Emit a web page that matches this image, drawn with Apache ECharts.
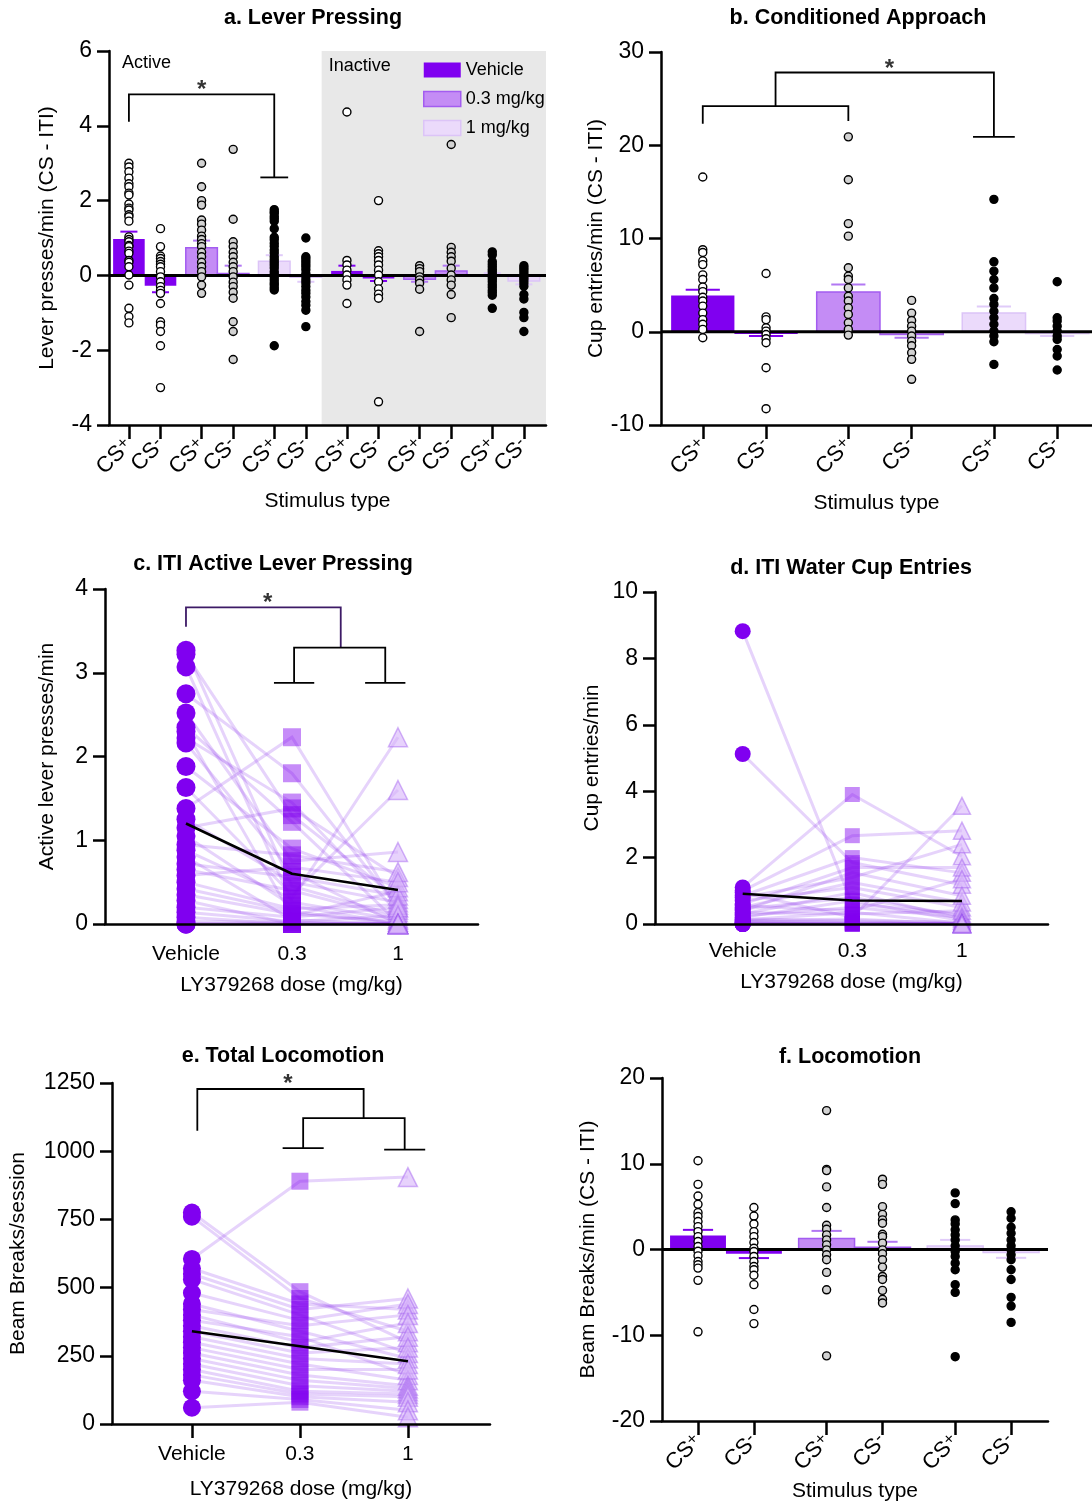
<!DOCTYPE html>
<html>
<head>
<meta charset="utf-8">
<title>LY379268 behaviour panels</title>
<script src="https://cdn.jsdelivr.net/npm/echarts@6.0.0/dist/echarts.min.js"></script>
<style>
  html, body { margin: 0; padding: 0; background: #fff; }
  #chart { width: 1092px; height: 1504px; }
</style>
</head>
<body>
<div id="chart"></div>
<script>
// ---------- values ----------
const doseNames = ['Vehicle', '0.3 mg/kg', '1 mg/kg'];
const doseTicks = ['Vehicle', '0.3', '1'];

// a. lever pressing: Active (veh, 0.3, 1) then Inactive (veh, 0.3, 1), CS+/CS- pairs
const leverStim = ['CS+', 'CS-', 'CS+', 'CS-', 'CS+', 'CS-', 'CS+', 'CS-', 'CS+', 'CS-', 'CS+', 'CS-'];
const leverMean = [0.97, -0.28, 0.74, 0.05, 0.38, -0.05, 0.12, -0.08, -0.1, 0.12, 0.02, -0.15];
const leverSem = [1.17, -0.45, 0.93, 0.26, 0.54, -0.17, 0.26, -0.15, -0.17, 0.26, 0.06, -0.24];
const leverDots = [
  [3.0, 2.9, 2.77, 2.6, 2.45, 2.37, 2.2, 2.15, 1.91, 1.8, 1.75, 1.62, 1.57, 1.45, 1.03, 0.96, 0.9, 0.8, 0.77, 0.65, 0.59, 0.4, 0.35, 0.23, 0.01, -0.26, -0.88, -1.1, -1.27],
  [1.25, 0.77, 0.52, 0.45, 0.37, 0.3, 0.23, 0.1, -0.04, -0.17, -0.3, -0.4, -0.48, -0.75, -1.24, -1.33, -1.5, -1.88, -3.0],
  [3.0, 2.37, 2.0, 1.88, 1.48, 1.37, 1.21, 1.05, 0.96, 0.85, 0.77, 0.62, 0.5, 0.35, 0.23, 0.1, -0.04, -0.26, -0.48],
  [3.37, 1.5, 0.9, 0.77, 0.62, 0.5, 0.35, 0.23, 0.1, -0.04, -0.18, -0.3, -0.45, -0.61, -1.24, -1.5, -2.25],
  [1.76, 1.7, 1.66, 1.58, 1.52, 1.45, 1.25, 1.02, 0.95, 0.86, 0.78, 0.68, 0.6, 0.5, 0.42, 0.35, 0.28, 0.2, 0.1, 0.03, -0.04, -0.12, -0.2, -0.26, -0.33, -0.39, -1.88],
  [1.0, 0.5, 0.44, 0.37, 0.3, 0.23, 0.15, 0.05, -0.03, -0.12, -0.2, -0.3, -0.4, -0.48, -0.58, -0.7, -0.8, -0.93, -1.37],
  [4.37, 0.4, 0.28, 0.14, 0.01, -0.12, -0.26, -0.75],
  [2.0, 0.66, 0.58, 0.5, 0.4, 0.28, 0.14, 0.01, -0.17, -0.36, -0.5, -0.61, -3.38],
  [0.26, 0.18, 0.1, -0.04, -0.12, -0.21, -0.37, -1.5],
  [3.5, 0.75, 0.62, 0.5, 0.38, 0.19, 0.01, -0.12, -0.26, -0.51, -1.13],
  [0.63, 0.55, 0.37, 0.3, 0.23, 0.16, 0.1, 0.03, -0.04, -0.1, -0.17, -0.25, -0.32, -0.4, -0.46, -0.53, -0.88],
  [0.26, 0.2, 0.14, 0.07, 0, -0.06, -0.12, -0.2, -0.29, -0.51, -0.63, -0.99, -1.13, -1.5]
];

// b. conditioned approach
const approachStim = ['CS+', 'CS-', 'CS+', 'CS-', 'CS+', 'CS-'];
const approachMean = [3.9, -0.25, 4.25, -0.3, 2.0, -0.2];
const approachSem = [4.5, -0.46, 5.07, -0.64, 2.71, -0.46];
const approachDots = [
  [16.6, 8.8, 8.5, 7.6, 7.2, 6.1, 5.6, 4.8, 4.3, 3.7, 3.3, 2.75, 2.0, 1.3, 0.8, 0.25, -0.64],
  [6.25, 1.6, 1.3, 0.43, 0.07, -0.29, -0.75, -1.18, -3.86, -8.25],
  [20.9, 16.3, 11.6, 10.25, 6.86, 5.96, 5.6, 4.7, 3.8, 3.3, 2.57, 1.86, 0.96, 0.25, -0.36],
  [3.36, 2.0, 1.2, 0.6, 0.07, -0.46, -1.0, -1.5, -2.25, -2.96, -5.1],
  [14.2, 7.5, 6.5, 5.6, 4.7, 3.57, 2.93, 2.2, 1.5, 0.8, 0.07, -0.46, -1.07, -3.5],
  [5.36, 1.5, 1.14, 0.6, 0.07, -0.46, -0.82, -1.9, -2.6, -4.1]
];

// c. ITI active lever pressing, one entry per subject (vehicle, 0.3, 1 mg/kg)
const itiLeverVeh = [3.27, 3.22, 3.07, 2.75, 2.52, 2.35, 2.3, 2.22, 2.16, 1.88, 1.63, 1.38, 1.25, 1.15, 1.05, 0.95, 0.88, 0.8, 0.72, 0.65, 0.58, 0.5, 0.42, 0.35, 0.28, 0.2, 0.14, 0.08, 0.03, 0, 0, 0];
const itiLeverLow = [0.45, 1.3, 0.26, 1.8, 0.75, 1.22, 0.1, 1.45, 0.62, 0.9, 0.35, 2.23, 0.5, 1.38, 0.22, 0.82, 0.3, 0.05, 0.56, 0.4, 0.68, 0.18, 0.15, 0.12, 0, 0.08, 0.03, 0, 0.02, 0, 0, 0];
const itiLeverHigh = [0.1, 0.3, 0.05, 0.2, 0.86, 0.02, 0.39, 0.14, 0, 0.44, 1.6, 0.17, 0.26, 0.56, 0, 0.62, 2.23, 0, 0.34, 0.07, 0.5, 0.23, 0, 0.03, 0, 0.2, 0.1, 0, 0, 0, 0, 0];
const itiLeverMean = [1.2, 0.6, 0.405];

// d. ITI water cup entries
const itiCupVeh = [8.82, 5.12, 1.1, 1.0, 0.95, 0.85, 0.8, 0.7, 0.6, 0.55, 0.5, 0.45, 0.4, 0.35, 0.3, 0.25, 0.2, 0.15, 0.12, 0.1, 0.08, 0.05, 0.03, 0, 0, 0, 0, 0];
const itiCupLow = [0.6, 1.85, 3.9, 2.66, 0.2, 2.0, 1.4, 1.1, 1.7, 0.4, 1.25, 0.8, 1.55, 0.3, 0.95, 0.5, 0.7, 0.1, 0.35, 0.15, 0.05, 0.03, 0, 0, 0, 0, 0, 0];
const itiCupHigh = [0.3, 1.18, 2.04, 2.81, 3.56, 1.54, 2.4, 0.5, 1.7, 1.35, 0.65, 0.25, 0.85, 0.4, 0.15, 0.2, 0.1, 0.05, 0.02, 0, 0, 0, 0, 0, 0, 0, 0, 0];
const itiCupMean = [0.91, 0.71, 0.69];

// e. total locomotion
const totalLocoVeh = [775, 760, 605, 570, 550, 530, 480, 440, 420, 400, 380, 360, 340, 320, 300, 280, 260, 240, 220, 200, 180, 160, 120, 60];
const totalLocoLow = [485, 460, 890, 440, 420, 400, 380, 340, 360, 300, 320, 280, 260, 240, 220, 200, 180, 160, 140, 120, 110, 100, 90, 80];
const totalLocoHigh = [300, 340, 905, 420, 460, 260, 440, 240, 400, 370, 180, 320, 280, 220, 160, 200, 140, 130, 120, 110, 100, 80, 50, 25];
const totalLocoMean = [340, 285, 230];

// f. locomotion (CS - ITI)
const locoStim = ['CS+', 'CS-', 'CS+', 'CS-', 'CS+', 'CS-'];
const locoMean = [1.63, -0.5, 1.28, 0.27, 0.4, -0.35];
const locoSem = [2.29, -1.0, 2.17, 0.9, 1.12, -0.97];
const locoDots = [
  [10.35, 7.6, 6.24, 5.27, 4.3, 3.84, 3.26, 2.67, 2.09, 1.5, 0.93, 0.35, -0.2, -0.74, -1.4, -1.78, -2.17, -3.6, -9.6],
  [4.9, 3.9, 2.98, 2.09, 1.5, 0.81, 0.15, -0.23, -0.81, -1.4, -1.98, -2.36, -3.0, -4.1, -7.0, -8.64],
  [16.2, 9.34, 9.2, 7.3, 4.9, 2.83, 2.36, 1.7, 1.12, 0.54, -0.04, -0.62, -1.2, -2.67, -4.7, -12.4],
  [8.2, 7.6, 5.0, 4.1, 3.45, 3.06, 1.78, 1.5, 0.74, -0.04, -0.5, -1.2, -2.05, -3.14, -3.5, -4.77, -5.8, -6.24],
  [6.6, 5.35, 3.45, 2.98, 2.29, 1.7, 1.12, 0.43, -0.23, -0.81, -1.59, -2.36, -4.1, -5.0, -12.5],
  [4.4, 3.64, 2.6, 1.9, 1.12, 0.43, -0.04, -0.62, -1.2, -2.36, -3.5, -5.58, -6.6, -8.5]
];

// significance brackets, in data units [x, y]
const bracketA = [[[0, 4.11], [0, 4.84], [4.6, 4.84], [4.6, 2.62]], [[4.16, 2.62], [5.04, 2.62]]];
const starA = [2.3, 4.95];
const bracketB = [[[0, 22.3], [0, 24.2], [2.3, 24.2], [2.3, 22.6]], [[1.15, 24.2], [1.15, 27.8], [4.6, 27.8], [4.6, 20.9]], [[4.27, 20.9], [4.93, 20.9]]];
const starB = [2.95, 28.15];
const bracketC = [[[0, 3.55], [0, 3.78], [1.46, 3.78], [1.46, 3.3]], [[1.02, 2.88], [1.02, 3.3], [1.88, 3.3], [1.88, 2.88]], [[0.83, 2.88], [1.21, 2.88]], [[1.69, 2.88], [2.07, 2.88]]];
const starC = [0.77, 3.83];
const bracketE = [[[0.05, 1075], [0.05, 1228], [1.59, 1228], [1.59, 1121]], [[1.03, 1011], [1.03, 1121], [1.97, 1121], [1.97, 1006]], [[0.84, 1011], [1.22, 1011]], [[1.78, 1006], [2.16, 1006]]];
const starE = [0.89, 1244];

// ---------- styling ----------
const FONT = 'Liberation Sans';
const barFill = ['#8000f0', '#c48cf5', '#ebdafb'];
const barStroke = ['#8000f0', '#a35cf0', '#dcc4f7'];
const capColor = ['#8000f0', '#b278f3', '#e0cbf9'];
const dotFill = ['#ffffff', '#d2d2d2', '#000000'];
const axisLine = { color: '#000', width: 2.5 };

// CS+/CS- pairs are closer together than the dose groups
const slot = i => i + 0.3 * Math.floor(i / 2);
function nearestIndex(arr, v) {
  let best = 0;
  arr.forEach((p, i) => { if (Math.abs(p - v) < Math.abs(arr[best] - v)) best = i; });
  return best;
}

function yAxisOpt(gi, min, max, interval, name, nameGap) {
  return {
    type: 'value', gridIndex: gi, min, max, interval, z: 10,
    name, nameLocation: 'middle', nameGap,
    nameTextStyle: { fontFamily: FONT, fontSize: 21, color: '#000' },
    axisLine: { show: true, onZero: false, lineStyle: axisLine },
    axisTick: { show: true, length: 12, lineStyle: { color: '#000', width: 2.5 } },
    axisLabel: { fontFamily: FONT, fontSize: 23, color: '#000', margin: 17, formatter: v => String(v) },
    splitLine: { show: false }
  };
}

function stimAxis(gi, min, max, stims, nameGap) {
  const pos = stims.map((_, i) => slot(i));
  return {
    type: 'value', gridIndex: gi, min, max, z: 10,
    name: 'Stimulus type', nameLocation: 'middle', nameGap,
    nameTextStyle: { fontFamily: FONT, fontSize: 21, color: '#000' },
    axisLine: { show: true, onZero: false, lineStyle: axisLine },
    axisTick: { show: true, length: 14, customValues: pos, lineStyle: { color: '#000', width: 2.5 } },
    axisLabel: {
      customValues: pos, rotate: 45, margin: 17,
      formatter: v => '{m|CS}{s|' + (stims[nearestIndex(pos, v)].endsWith('+') ? '+' : '-') + '}',
      rich: {
        m: { fontFamily: FONT, fontSize: 22, color: '#000', lineHeight: 23 },
        s: { fontFamily: FONT, fontSize: 17, color: '#000', lineHeight: 23, verticalAlign: 'top' }
      }
    },
    splitLine: { show: false }
  };
}

function doseAxis(gi, min, max, nameGap, margin, ticks) {
  return {
    type: 'value', gridIndex: gi, min, max, z: 10,
    name: 'LY379268 dose (mg/kg)', nameLocation: 'middle', nameGap,
    nameTextStyle: { fontFamily: FONT, fontSize: 21, color: '#000' },
    axisLine: { show: true, onZero: false, lineStyle: axisLine },
    axisTick: { show: ticks, length: 14, customValues: [0, 1, 2], lineStyle: { color: '#000', width: 2.5 } },
    axisLabel: {
      customValues: [0, 1, 2], margin, fontFamily: FONT, fontSize: 21, color: '#000',
      formatter: v => doseTicks[Math.round(v)]
    },
    splitLine: { show: false }
  };
}

function barSeries(gi, means, sems, dose) {
  const data = [];
  means.forEach((m, i) => { if (Math.floor(i / 2) % 3 === dose) data.push([slot(i), m, sems[i]]); });
  return {
    type: 'custom', name: doseNames[dose], xAxisIndex: gi, yAxisIndex: gi, z: 2, silent: true,
    itemStyle: { color: barFill[dose] },
    encode: { x: 0, y: 1 },
    renderItem: (params, api) => {
      const x = api.value(0), v = api.value(1), s = api.value(2);
      const p0 = api.coord([x - 0.5, v]);
      const p1 = api.coord([x + 0.5, 0]);
      const c0 = api.coord([x - 0.27, s]);
      const c1 = api.coord([x + 0.27, s]);
      return {
        type: 'group',
        children: [
          {
            type: 'rect',
            shape: { x: p0[0], y: Math.min(p0[1], p1[1]), width: p1[0] - p0[0], height: Math.abs(p1[1] - p0[1]) },
            style: { fill: barFill[dose], stroke: dose ? barStroke[dose] : null, lineWidth: 1.5 }
          },
          {
            type: 'line',
            shape: { x1: c0[0], y1: c0[1], x2: c1[0], y2: c1[1] },
            style: { stroke: capColor[dose], lineWidth: 2 }
          }
        ]
      };
    },
    data
  };
}

function dotSeries(gi, dots, dose) {
  const data = [];
  dots.forEach((col, i) => {
    if (Math.floor(i / 2) % 3 === dose) col.forEach(v => data.push([slot(i), v]));
  });
  return {
    type: 'scatter', xAxisIndex: gi, yAxisIndex: gi, z: 6, silent: true,
    symbolSize: 8,
    itemStyle: { color: dotFill[dose], borderColor: '#000', borderWidth: 1.4, opacity: 1 },
    data
  };
}

function zeroLine(gi, xmin, xmax, extra) {
  return Object.assign({
    type: 'line', xAxisIndex: gi, yAxisIndex: gi, z: 4, silent: true,
    symbol: 'none', lineStyle: { color: '#000', width: 3 },
    data: [[xmin, 0], [xmax, 0]]
  }, extra || {});
}

function bracketSeries(gi, paths, colors, star) {
  return [
    {
      type: 'lines', coordinateSystem: 'cartesian2d', xAxisIndex: gi, yAxisIndex: gi,
      polyline: true, z: 7, silent: true,
      lineStyle: { color: '#000', width: 1.8, opacity: 1 },
      data: paths.map((p, k) => ({ coords: p, lineStyle: { color: (colors && colors[k]) || '#000' } }))
    },
    {
      type: 'scatter', xAxisIndex: gi, yAxisIndex: gi, z: 7, silent: true,
      symbolSize: 1, itemStyle: { color: 'rgba(0,0,0,0)' },
      label: { show: true, formatter: '*', position: 'inside', fontFamily: FONT, fontSize: 24, fontWeight: 'bold', color: '#000' },
      data: [star]
    }
  ];
}

function doseSeries(gi, veh, low, high, mean, sizes) {
  return [
    {
      type: 'lines', coordinateSystem: 'cartesian2d', xAxisIndex: gi, yAxisIndex: gi,
      polyline: true, z: 2, silent: true,
      lineStyle: { color: 'rgba(150,70,240,0.24)', width: 3, opacity: 1 },
      data: veh.map((v, k) => ({ coords: [[0, v], [1, low[k]], [2, high[k]]] }))
    },
    {
      type: 'scatter', xAxisIndex: gi, yAxisIndex: gi, z: 3, silent: true,
      symbol: 'circle', symbolSize: sizes[0],
      itemStyle: { color: '#8000f0', opacity: 1 },
      data: veh.map(v => [0, v])
    },
    {
      type: 'scatter', xAxisIndex: gi, yAxisIndex: gi, z: 3, silent: true,
      symbol: 'rect', symbolSize: sizes[1],
      itemStyle: { color: 'rgba(128,0,240,0.45)', opacity: 1 },
      data: low.map(v => [1, v])
    },
    {
      type: 'scatter', xAxisIndex: gi, yAxisIndex: gi, z: 3, silent: true,
      symbol: 'triangle', symbolSize: sizes[2],
      itemStyle: { color: 'rgba(215,180,250,0.6)', borderColor: 'rgba(160,90,240,0.45)', borderWidth: 1.5, opacity: 1 },
      data: high.map(v => [2, v])
    },
    {
      type: 'line', xAxisIndex: gi, yAxisIndex: gi, z: 5, silent: true,
      symbol: 'none', lineStyle: { color: '#000', width: 2.5 },
      data: mean.map((m, i) => [i, m])
    }
  ];
}

// ---------- panels ----------
const xr = {
  a: [-0.63, 13.2], b: [-0.66, 6.15], c: [-0.764, 2.755],
  d: [-0.80, 2.785], e: [-0.74, 2.76], f: [-0.644, 6.26]
};

const titles = [
  ['a. Lever Pressing', 313, 18],
  ['b. Conditioned Approach', 858, 18],
  ['c. ITI Active Lever Pressing', 273, 564],
  ['d. ITI Water Cup Entries', 851, 568],
  ['e. Total Locomotion', 283, 1056],
  ['f. Locomotion', 850, 1057]
];

const series = [];
// a
[0, 1, 2].forEach(d => series.push(barSeries(0, leverMean, leverSem, d)));
series.push(zeroLine(0, xr.a[0], xr.a[1], {
  markArea: {
    silent: true,
    data: [
      [{ xAxis: xr.a[0], yAxis: -4, itemStyle: { color: 'rgba(0,0,0,0)' },
         label: { show: true, formatter: 'Active', position: 'insideTopLeft', distance: 3, offset: [10, 0],
                  fontFamily: FONT, fontSize: 18, color: '#000' } },
       { xAxis: 6.1, yAxis: 6 }],
      [{ xAxis: 6.1, yAxis: -4, itemStyle: { color: '#e8e8e8' },
         label: { show: true, formatter: 'Inactive', position: 'insideTopLeft', distance: 6, offset: [1, 0],
                  fontFamily: FONT, fontSize: 18, color: '#000' } },
       { xAxis: xr.a[1], yAxis: 6 }]
    ]
  }
}));
[0, 1, 2].forEach(d => series.push(dotSeries(0, leverDots, d)));
series.push(...bracketSeries(0, bracketA, null, starA));
// b
[0, 1, 2].forEach(d => series.push(barSeries(1, approachMean, approachSem, d)));
series.push(zeroLine(1, xr.b[0], xr.b[1]));
[0, 1, 2].forEach(d => series.push(dotSeries(1, approachDots, d)));
series.push(...bracketSeries(1, bracketB, null, starB));
// c
series.push(...doseSeries(2, itiLeverVeh, itiLeverLow, itiLeverHigh, itiLeverMean, [19, 18, 19]));
series.push(...bracketSeries(2, bracketC, ['#3d1a66'], starC));
// d
series.push(...doseSeries(3, itiCupVeh, itiCupLow, itiCupHigh, itiCupMean, [16, 15, 17]));
// e
series.push(...doseSeries(4, totalLocoVeh, totalLocoLow, totalLocoHigh, totalLocoMean, [18, 17, 19]));
series.push(...bracketSeries(4, bracketE, null, starE));
// f
[0, 1, 2].forEach(d => series.push(barSeries(5, locoMean, locoSem, d)));
series.push(zeroLine(5, xr.f[0], xr.f[1]));
[0, 1, 2].forEach(d => series.push(dotSeries(5, locoDots, d)));

const option = {
  animation: false,
  backgroundColor: '#fff',
  textStyle: { fontFamily: FONT },
  graphic: titles.map(t => ({
    type: 'text', x: t[1], y: t[2], silent: true,
    style: { text: t[0], font: 'bold 21.5px "Liberation Sans"', fill: '#000', textAlign: 'center', verticalAlign: 'middle' }
  })),
  legend: {
    data: doseNames.map((n, k) => ({
      name: n,
      itemStyle: { color: barFill[k], borderColor: barStroke[k], borderWidth: k ? 1.5 : 0 }
    })),
    orient: 'vertical', left: 418, top: 56, itemWidth: 37, itemHeight: 15, itemGap: 11,
    icon: 'rect', selectedMode: false,
    textStyle: { fontFamily: FONT, fontSize: 18, color: '#000', lineHeight: 18 }
  },
  grid: [
    { left: 109, top: 51, width: 437, height: 374 },
    { left: 661, top: 52, width: 431, height: 373 },
    { left: 105, top: 589, width: 373, height: 335 },
    { left: 655, top: 592, width: 393, height: 332 },
    { left: 112, top: 1083, width: 378, height: 341 },
    { left: 662, top: 1078, width: 386, height: 343 }
  ],
  xAxis: [
    stimAxis(0, xr.a[0], xr.a[1], leverStim, 66),
    stimAxis(1, xr.b[0], xr.b[1], approachStim, 68),
    doseAxis(2, xr.c[0], xr.c[1], 51, 20, false),
    doseAxis(3, xr.d[0], xr.d[1], 48, 17, false),
    doseAxis(4, xr.e[0], xr.e[1], 55, 20, true),
    stimAxis(5, xr.f[0], xr.f[1], locoStim, 60)
  ],
  yAxis: [
    yAxisOpt(0, -4, 6, 2, 'Lever presses/min (CS - ITI)', 51),
    yAxisOpt(1, -10, 30, 10, 'Cup entries/min (CS - ITI)', 54),
    yAxisOpt(2, 0, 4, 1, 'Active lever presses/min', 47),
    yAxisOpt(3, 0, 10, 2, 'Cup entries/min', 52),
    yAxisOpt(4, 0, 1250, 250, 'Beam Breaks/session', 83),
    yAxisOpt(5, -20, 20, 10, 'Beam Breaks/min (CS - ITI)', 63)
  ],
  series
};

const chart = echarts.init(document.getElementById('chart'));
chart.setOption(option);
</script>
</body>
</html>
